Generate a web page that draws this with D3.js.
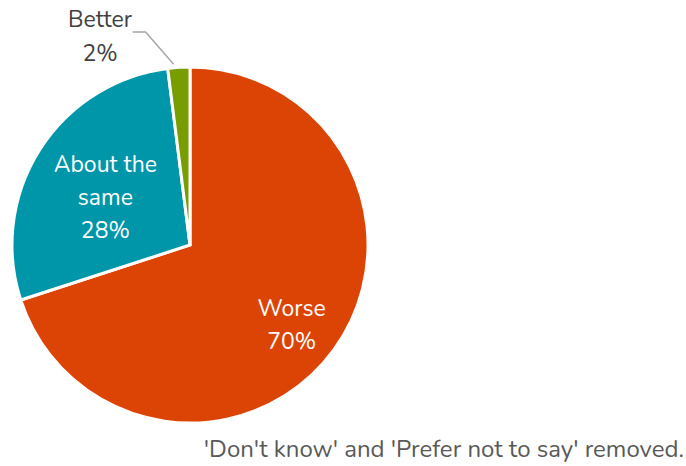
<!DOCTYPE html>
<html>
<head>
<meta charset="utf-8">
<script src="https://cdn.jsdelivr.net/npm/d3@7"></script>
<style>
  body { margin: 0; background: #fff; }
  text { font-family: Nunito, "Open Sans", Lato, sans-serif; }
</style>
</head>
<body>
<script>
// chart data
var categories = ["Worse", "About the same", "Better"];
var values = [70, 28, 2];
var colors = ["#DC4405", "#0096A9", "#789D00"];
var note = "'Don't know' and 'Prefer not to say' removed.";

var width = 686, height = 466;
var cx = 190, cy = 245, radius = 178;

var svg = d3.select("body").append("svg")
    .attr("width", width)
    .attr("height", height);

var pie = d3.pie().sort(null).value(function(d) { return d; });
var arcs = pie(values);
var arc = d3.arc().innerRadius(0).outerRadius(radius);

var g = svg.append("g").attr("transform", "translate(" + cx + "," + cy + ")");

g.selectAll("path").data(arcs).enter().append("path")
    .attr("d", arc)
    .attr("fill", function(d, i) { return colors[i]; })
    .attr("stroke", "#fff")
    .attr("stroke-width", 3);

// inside labels
var labelLines = [["Worse"], ["About the", "same"]];
var labelR = [0.72, 0.55];
var lineH = 33;
[0, 1].forEach(function(i) {
  var a = arcs[i];
  var c = d3.arc().innerRadius(radius * labelR[i]).outerRadius(radius * labelR[i]).centroid(a);
  var lines = labelLines[i].concat([values[i] + "%"]);
  var t = g.append("text")
      .attr("text-anchor", "middle")
      .attr("fill", "#fff")
      .attr("font-size", "23px");
  lines.forEach(function(l, k) {
    t.append("tspan")
        .attr("x", c[0] - 2)
        .attr("y", c[1] + (k - (lines.length - 1) / 2) * lineH + 12)
        .text(l);
  });
});

// outside label with leader line for the small slice
var small = arcs[2];
var mid = (small.startAngle + small.endAngle) / 2;
var p0 = [Math.sin(mid) * (radius + 3) - 5, -Math.cos(mid) * (radius + 3)];
var p1 = [p0[0] - 28, -cy + 32];
var p2 = [p1[0] - 13, p1[1]];
g.append("polyline")
    .attr("points", [p0, p1, p2].map(function(p) { return p.join(","); }).join(" "))
    .attr("fill", "none")
    .attr("stroke", "#a6a6a6")
    .attr("stroke-width", 1.5);

var bt = svg.append("text")
    .attr("text-anchor", "middle")
    .attr("fill", "#404040")
    .attr("font-size", "23px");
bt.append("tspan").attr("x", 100).attr("y", 27).text(categories[2]);
bt.append("tspan").attr("x", 100).attr("y", 61).text(values[2] + "%");

svg.append("text")
    .attr("x", 684)
    .attr("y", 457)
    .attr("text-anchor", "end")
    .attr("fill", "#595959")
    .attr("font-size", "24px")
    .text(note);
</script>
</body>
</html>
